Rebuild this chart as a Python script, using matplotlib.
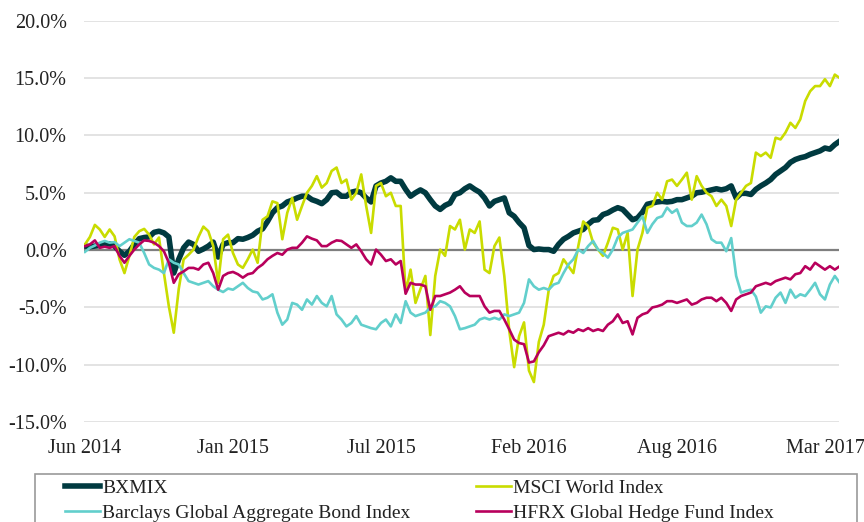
import numpy as np
import matplotlib.pyplot as plt
from matplotlib.patches import Rectangle

# cumulative return (%)
tick_labels = ["Jun 2014", "Jan 2015", "Jul 2015", "Feb 2016", "Aug 2016", "Mar 2017"]

bxmix = [0.35, 0.3, 0.35, 0.4, 0.5, 0.55, 0.35, -0.1, -0.45, -0.1,
         0.5, 1.0, 1.1, 1.15, 1.55, 1.65, 1.5, 1.15, -2.0, -0.8,
         0.2, 0.7, 0.5, -0.1, 0.1, 0.35, 0.7, -0.6, 0.5, 0.65,
         0.65, 1.0, 0.95, 1.1, 1.3, 1.65, 1.85, 2.5, 3.25, 3.7,
         3.85, 4.2, 4.35, 4.55, 4.7, 4.7, 4.4, 4.25, 4.05, 4.4,
         5.0, 5.05, 4.7, 4.7, 5.05, 5.15, 5.0, 4.55, 4.2, 5.6,
         5.85, 6.0, 6.3, 6.0, 6.0, 5.3, 4.7, 5.0, 5.25, 5.0,
         4.4, 3.85, 3.55, 3.9, 4.1, 4.85, 5.0, 5.35, 5.6, 5.3,
         5.05, 4.55, 3.85, 4.25, 4.4, 4.55, 3.25, 2.95, 2.4, 1.95,
         0.4, 0.05, 0.1, 0.05, 0.05, -0.1, 0.5, 0.95, 1.2, 1.5,
         1.65, 1.8, 2.25, 2.6, 2.65, 3.1, 3.25, 3.5, 3.7, 3.55,
         3.1, 2.65, 2.8, 3.3, 4.0, 4.1, 4.2, 4.25, 4.2, 4.25,
         4.4, 4.4, 4.55, 4.7, 5.0, 5.05, 5.15, 5.25, 5.35, 5.25,
         5.35, 5.6, 4.55, 4.95, 4.95, 4.85, 5.3, 5.6, 5.85, 6.15,
         6.6, 6.9, 7.2, 7.65, 7.9, 8.05, 8.15, 8.35, 8.5, 8.65,
         8.9, 8.8, 9.2, 9.5]

msci = [0.5, 1.15, 2.2, 1.8, 1.15, 1.8, 1.2, -0.8, -2.0, -0.5,
        1.15, 1.65, 1.85, 1.35, 0.5, 1.1, -2.0, -4.9, -7.2, -3.4,
        -0.8, -0.4, 0.05, 1.15, 2.05, 1.65, 0.35, -2.85, 0.95, 1.35,
        -0.25, -1.25, -1.55, -0.8, 0.05, -1.1, 2.65, 2.95, 4.25, 4.1,
        0.95, 3.25, 4.55, 2.65, 3.85, 5.0, 5.6, 6.45, 5.45, 5.85,
        6.9, 7.2, 5.85, 6.15, 4.4, 5.0, 6.6, 3.85, 1.5, 5.6,
        5.85, 4.7, 5.0, 3.85, 3.85, -3.7, -1.7, -4.6, -3.4, -2.25,
        -7.4, -2.25, 0.05, -0.5, 2.1, 1.8, 2.65, 0.05, 1.8, 1.5,
        2.5, -1.7, -2.0, 0.35, 1.1, -2.25, -7.0, -10.2, -7.5, -6.3,
        -10.5, -11.5, -8.0, -6.5, -3.5, -2.25, -2.0, -0.8, -1.4, -2.0,
        0.35, 2.5, 2.1, 0.65, 0.05, -0.5, 0.65, 1.95, 1.8, 0.05,
        1.5, -4.0, 0.05, 1.5, 3.7, 3.85, 5.0, 4.4, 6.0, 6.15,
        5.6, 6.15, 6.75, 4.4, 6.45, 5.6, 5.0, 4.7, 3.85, 4.4,
        3.85, 2.1, 4.4, 5.0, 5.6, 5.85, 8.5, 8.2, 8.5, 8.05,
        9.8, 9.65, 10.25, 11.1, 10.65, 11.4, 13.0, 13.85, 14.3, 14.3,
        14.9, 14.3, 15.3, 15.0]

barclays = [-0.15, 0.2, 0.4, 0.65, 0.8, 0.65, 0.7, 0.35, 0.65, 0.95,
            0.8, 0.65, -0.25, -1.25, -1.55, -1.7, -2.0, -0.8, -1.1, -1.25,
            -2.0, -2.7, -2.85, -3.0, -2.85, -2.7, -3.15, -3.45, -3.65, -3.35,
            -3.45, -3.15, -2.85, -3.3, -3.6, -3.7, -4.3, -4.15, -3.85, -5.45,
            -6.5, -6.05, -4.6, -4.75, -5.2, -4.3, -4.75, -4.0, -4.6, -4.9,
            -4.0, -5.6, -6.05, -6.65, -6.35, -5.75, -6.5, -6.65, -6.8, -6.9,
            -6.35, -6.05, -6.65, -5.6, -6.35, -4.45, -5.45, -5.75, -5.6, -5.45,
            -5.0, -4.9, -4.45, -4.6, -4.9, -5.75, -6.9, -6.8, -6.65, -6.5,
            -6.05, -5.9, -6.05, -5.9, -6.05, -5.6, -5.75, -5.6, -5.45, -4.6,
            -2.55, -3.15, -3.45, -3.3, -3.45, -3.0, -2.85, -2.0, -1.25, -0.8,
            0.05, -0.25, 0.35, 0.8, 0.05, -0.25, -0.65, 0.05, 1.1, 1.5,
            1.65, 1.8, 2.4, 2.95, 1.5, 2.25, 2.8, 2.95, 3.7, 3.25,
            3.55, 2.4, 2.1, 2.1, 2.4, 3.1, 2.25, 0.95, 0.65, 0.65,
            -0.1, 1.05, -2.25, -3.7, -3.55, -3.45, -4.05, -5.45, -4.9, -5.0,
            -4.15, -3.7, -4.6, -3.45, -4.15, -3.85, -4.0, -3.45, -2.85, -3.85,
            -4.3, -3.0, -2.25, -2.85]

hfrx = [0.35, 0.5, 0.85, 0.2, 0.3, 0.2, 0.35, -0.5, -1.1, -0.5,
        0.05, 0.5, 0.85, 0.8, 0.65, 0.35, -0.1, -1.1, -2.85, -2.1,
        -1.85, -1.55, -1.55, -1.7, -1.25, -1.1, -2.0, -3.45, -2.25, -2.0,
        -1.9, -2.1, -2.4, -2.1, -2.0, -1.55, -1.25, -0.8, -0.5, -0.25,
        -0.4, 0.05, 0.2, 0.2, 0.65, 1.2, 1.0, 0.85, 0.35, 0.35,
        0.65, 0.85, 0.8, 0.5, 0.2, 0.5, -0.1, -0.8, -1.25, 0.05,
        -0.4, -0.95, -0.8, -1.25, -0.95, -3.8, -2.85, -3.0, -3.0, -3.15,
        -5.2, -4.0, -4.0, -3.85, -3.7, -3.45, -3.15, -3.7, -4.0, -4.0,
        -4.0, -4.9, -5.45, -5.3, -5.3, -6.05, -6.9, -7.8, -8.1, -8.2,
        -9.8, -9.7, -8.9, -8.3, -7.5, -7.35, -7.2, -7.35, -7.05, -7.2,
        -6.9, -7.05, -6.8, -7.05, -6.9, -7.05, -6.5, -6.2, -5.6, -6.35,
        -6.2, -7.35, -5.9, -5.6, -5.45, -5.0, -4.9, -4.75, -4.45, -4.45,
        -4.6, -4.45, -4.3, -4.75, -4.6, -4.3, -4.15, -4.15, -4.45, -4.15,
        -4.6, -5.3, -4.3, -4.0, -3.85, -3.7, -3.15, -3.0, -2.85, -3.0,
        -2.7, -2.55, -2.4, -2.55, -2.1, -2.0, -1.4, -1.7, -1.1, -1.4,
        -1.7, -1.4, -1.7, -1.4]

plt.rcParams['font.family'] = ['Liberation Serif', 'DejaVu Serif']
text_color = '#222222'

fig = plt.figure(figsize=(8.64, 5.22), dpi=100)
ax = fig.add_axes([84 / 864, 1 - 422.2 / 522, 755 / 864, 401.5 / 522])

x = np.arange(len(bxmix))
l1, = ax.plot(x, bxmix, color='#003a40', lw=4.0, label='BXMIX', zorder=3)
l2, = ax.plot(x, msci, color='#c9dc00', lw=1.9, label='MSCI World Index', zorder=4)
l3, = ax.plot(x, barclays, color='#62cfcc', lw=1.9,
              label='Barclays Global Aggregate Bond Index', zorder=5)
l4, = ax.plot(x, hfrx, color='#b8005c', lw=1.9,
              label='HFRX Global Hedge Fund Index', zorder=6)
ax.axhline(0, color='#7f7f7f', lw=1.6, zorder=2)

ax.set_ylim(-15, 20)
ax.set_xlim(-0.2, 152.85)
yt = np.arange(-15, 21, 5)
ax.set_yticks(yt)
ax.set_yticklabels([f"{v:.1f}%" for v in yt])
ax.set_xticks(np.arange(len(tick_labels)) * 30)
ax.set_xticklabels(tick_labels)
ax.yaxis.grid(True, color='#dedede', lw=1.2, zorder=0)
ax.set_axisbelow(True)
for s in ax.spines.values():
    s.set_visible(False)
ax.tick_params(length=0, labelsize=14.5, colors=text_color)
ax.tick_params(axis='y', pad=12.5)
ax.tick_params(axis='x', pad=12)

# legend box runs past the bottom edge of the image
fig.add_artist(Rectangle((35 / 864, -0.1), 822 / 864, 0.1 + 48 / 522,
                         transform=fig.transFigure, fill=False,
                         edgecolor='#9a9a9a', lw=1.2, clip_on=False))
leg = fig.legend([l1, l3, l2, l4], [h.get_label() for h in (l1, l3, l2, l4)],
                 ncol=2, loc='upper left', bbox_to_anchor=(65 / 864, 1 - 479 / 522),
                 frameon=False, fontsize=14, handlelength=1.8,
                 handletextpad=0.1, columnspacing=3.4, borderpad=0,
                 labelspacing=0.4, borderaxespad=0)
for t in leg.get_texts():
    t.set_color(text_color)

fig.savefig('out.png', dpi=100)
